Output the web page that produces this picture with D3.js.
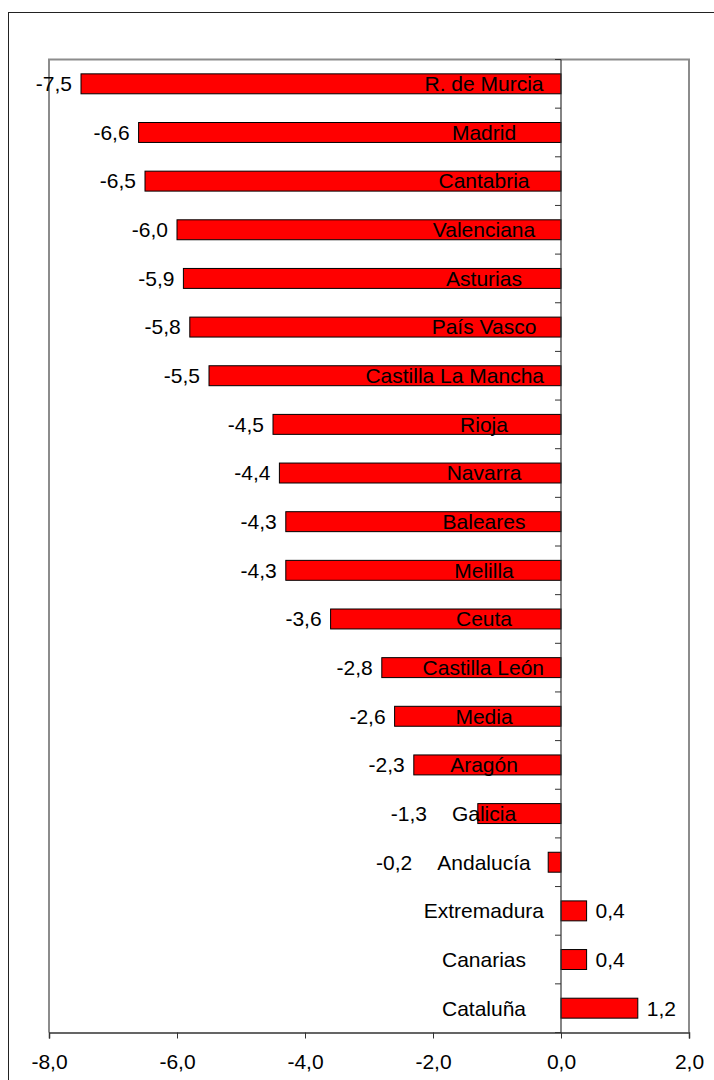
<!DOCTYPE html>
<html>
<head>
<meta charset="utf-8">
<script src="https://cdn.jsdelivr.net/npm/d3@7"></script>
<style>
  html, body { margin: 0; padding: 0; background: #fff; }
  svg { display: block; }
  text { font-family: "Liberation Sans", Arial, sans-serif; font-size: 21px; fill: #000; }
</style>
</head>
<body>
<script>
// Regions, top to bottom
const regions = [
  "R. de Murcia", "Madrid", "Cantabria", "Valenciana", "Asturias", "País Vasco",
  "Castilla La Mancha", "Rioja", "Navarra", "Baleares", "Melilla", "Ceuta",
  "Castilla León", "Media", "Aragón", "Galicia", "Andalucía", "Extremadura",
  "Canarias", "Cataluña"
];
const values = [
  -7.5, -6.6, -6.5, -6.0, -5.9, -5.8,
  -5.5, -4.5, -4.4, -4.3, -4.3, -3.6,
  -2.8, -2.6, -2.3, -1.3, -0.2, 0.4,
  0.4, 1.2
];
const xTicks = [-8, -6, -4, -2, 0, 2];

const W = 714, H = 1080;
const plot = { left: 49, right: 689, top: 59.5, bottom: 1032.5 };

const fmt = v => d3.format(".1f")(v).replace(".", ",").replace("−", "-");

const svg = d3.select("body").append("svg").attr("width", W).attr("height", H);

// Outer chart frame (runs past the window edges on the right and bottom)
svg.append("rect")
  .attr("x", 8.5).attr("y", 12.5).attr("width", 720).attr("height", 1090)
  .attr("fill", "none").attr("stroke", "#222").attr("stroke-width", 1);

const x = d3.scaleLinear().domain([-8, 2]).range([plot.left, plot.right]);
const y = d3.scaleBand().domain(regions).range([plot.top, plot.bottom])
  .paddingInner(0.59).paddingOuter(0.295);

// Plot-area border (grey) on left, top, right
svg.append("path")
  .attr("d", `M${plot.left},${plot.bottom} V${plot.top} H${plot.right} V${plot.bottom}`)
  .attr("fill", "none").attr("stroke", "#8c8c8c").attr("stroke-width", 2);

// Bars
const data = regions.map((r, i) => ({ region: r, value: values[i] }));
svg.append("g").selectAll("rect").data(data).join("rect")
  .attr("x", d => x(Math.min(0, d.value)))
  .attr("y", d => y(d.region))
  .attr("width", d => Math.abs(x(d.value) - x(0)))
  .attr("height", y.bandwidth())
  .attr("fill", "#ff0000")
  .attr("stroke", "#000").attr("stroke-width", 1);

// Bottom value axis
const xAxis = d3.axisBottom(x).tickValues(xTicks).tickSize(6).tickPadding(16).tickFormat(fmt);
const gx = svg.append("g").attr("transform", `translate(0,${plot.bottom})`).call(xAxis);
gx.select(".domain").attr("stroke", "#333").attr("stroke-width", 1.5);
gx.selectAll(".tick line").attr("stroke", "#333");
gx.selectAll(".tick text").attr("font-size", 21)
  .attr("font-family", '"Liberation Sans", Arial, sans-serif').attr("fill", "#000");

// Category axis at zero with ticks between bands
const bounds = d3.range(regions.length + 1).map(i => plot.top + i * y.step());
const gz = svg.append("g");
gz.append("line")
  .attr("x1", x(0)).attr("x2", x(0)).attr("y1", plot.top).attr("y2", plot.bottom)
  .attr("stroke", "#333").attr("stroke-width", 1.2);
gz.selectAll("line.tk").data(bounds).join("line").attr("class", "tk")
  .attr("x1", x(0) - 6).attr("x2", x(0)).attr("y1", d => d).attr("y2", d => d)
  .attr("stroke", "#333").attr("stroke-width", 1);

// Category labels, centred near the axis but kept clear of it
const catCenter = x(0) - 77, catMaxRight = x(0) - 17;
const cat = svg.append("g").selectAll("text").data(data).join("text")
  .attr("y", d => y(d.region) + y.bandwidth() / 2)
  .attr("dy", "0.35em")
  .text(d => d.region);
cat.each(function () {
  const w = this.getComputedTextLength();
  const right = Math.min(catCenter + w / 2, catMaxRight);
  d3.select(this).attr("x", right).attr("text-anchor", "end");
  this.__left = right - w;
});

// Value labels
svg.append("g").selectAll("text").data(data).join("text")
  .attr("y", d => y(d.region) + y.bandwidth() / 2)
  .attr("dy", "0.35em")
  .attr("text-anchor", d => d.value < 0 ? "end" : "start")
  .attr("x", (d, i) => {
    if (d.value >= 0) return x(d.value) + 9;
    const left = cat.nodes()[i].__left;
    return Math.min(x(d.value) - 9, left - 25);
  })
  .text(d => fmt(d.value));
</script>
</body>
</html>
